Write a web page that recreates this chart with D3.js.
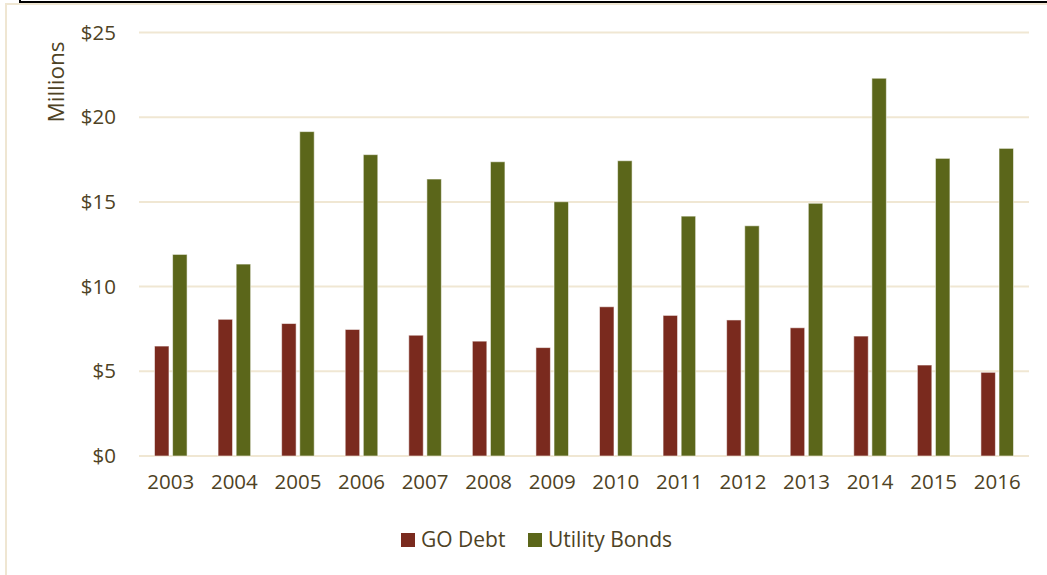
<!DOCTYPE html>
<html>
<head>
<meta charset="utf-8">
<script src="https://cdn.jsdelivr.net/npm/d3@7"></script>
<style>
  html, body { margin: 0; padding: 0; background: #fff; }
  svg { display: block; font-family: "Open Sans", sans-serif; }
</style>
</head>
<body>
<svg id="chart" width="1047" height="575"></svg>
<script>
// Annual debt service, millions of dollars
const years = ["2003","2004","2005","2006","2007","2008","2009","2010","2011","2012","2013","2014","2015","2016"];
const goDebt = [6.49, 8.07, 7.82, 7.47, 7.13, 6.78, 6.40, 8.81, 8.30, 8.03, 7.57, 7.08, 5.37, 4.94];
const utilityBonds = [11.90, 11.33, 19.15, 17.79, 16.35, 17.37, 15.01, 17.43, 14.16, 13.59, 14.92, 22.30, 17.57, 18.16];
const seriesNames = ["GO Debt", "Utility Bonds"];
const seriesColors = ["#7a2a1e", "#5b661a"];
const yTicks = [0, 5, 10, 15, 20, 25];

const textColor = "#4e4224";
const gridColor = "#f0e7d3";

const svg = d3.select("#chart");

// outer frame
svg.append("rect")
  .attr("x", 6).attr("y", 4).attr("width", 1100).attr("height", 700)
  .attr("fill", "none").attr("stroke", "#efe6d2").attr("stroke-width", 2);
svg.append("rect")
  .attr("x", 20).attr("y", -20).attr("width", 1100).attr("height", 22)
  .attr("fill", "none").attr("stroke", "#000").attr("stroke-width", 2);

const plot = { left: 139, right: 1029, top: 32.5, bottom: 456 };

const x0 = d3.scaleBand().domain(years).range([plot.left, plot.right]).padding(0);
const x1 = d3.scaleBand().domain(seriesNames).range([0, x0.bandwidth()])
  .paddingInner(0.2).paddingOuter(0.856);
const y = d3.scaleLinear().domain([0, 25]).range([plot.bottom, plot.top]);

// gridlines
svg.append("g")
  .selectAll("line")
  .data(yTicks)
  .join("line")
  .attr("x1", plot.left).attr("x2", plot.right)
  .attr("y1", d => y(d)).attr("y2", d => y(d))
  .attr("stroke", gridColor).attr("stroke-width", 2);

// y axis labels
const yAxis = d3.axisLeft(y).tickValues(yTicks).tickFormat(d => "$" + d).tickSize(0).tickPadding(0);
const gy = svg.append("g").attr("transform", `translate(116,0)`).call(yAxis);
gy.select(".domain").remove();
gy.selectAll("text")
  .attr("fill", textColor)
  .style("font-family", "'Open Sans', sans-serif")
  .style("font-size", "20.5px");

// x axis labels
const xAxis = d3.axisBottom(x0).tickSize(0).tickPadding(0);
const gx = svg.append("g").attr("transform", `translate(0,474)`).call(xAxis);
gx.select(".domain").remove();
gx.selectAll("text")
  .attr("fill", textColor)
  .style("font-family", "'Open Sans', sans-serif")
  .style("font-size", "20.5px");

// y axis title
svg.append("text")
  .attr("transform", "translate(64,82) rotate(-90)")
  .attr("text-anchor", "middle")
  .attr("fill", textColor)
  .style("font-size", "22.5px")
  .text("Millions");

// bars
const rows = years.map((yr, i) => ({ year: yr, values: [goDebt[i], utilityBonds[i]] }));
const groups = svg.append("g")
  .selectAll("g")
  .data(rows)
  .join("g")
  .attr("transform", d => `translate(${x0(d.year)},0)`);

groups.selectAll("rect")
  .data(d => d.values.map((v, j) => ({ name: seriesNames[j], value: v, color: seriesColors[j] })))
  .join("rect")
  .attr("x", d => x1(d.name))
  .attr("width", x1.bandwidth())
  .attr("y", d => y(d.value))
  .attr("height", d => y(0) - y(d.value))
  .attr("fill", d => d.color)
  .attr("stroke", "rgba(255,255,255,0.55)")
  .attr("stroke-width", 1);

// legend
const legendItems = [
  { name: seriesNames[0], color: seriesColors[0], x: 401 },
  { name: seriesNames[1], color: seriesColors[1], x: 528 }
];
const lg = svg.append("g").selectAll("g").data(legendItems).join("g")
  .attr("transform", d => `translate(${d.x},533)`);
lg.append("rect").attr("width", 14).attr("height", 14).attr("fill", d => d.color);
lg.append("text")
  .attr("x", 20).attr("y", 7).attr("dy", "0.35em")
  .attr("fill", textColor)
  .style("font-size", "21px")
  .text(d => d.name);
</script>
</body>
</html>
